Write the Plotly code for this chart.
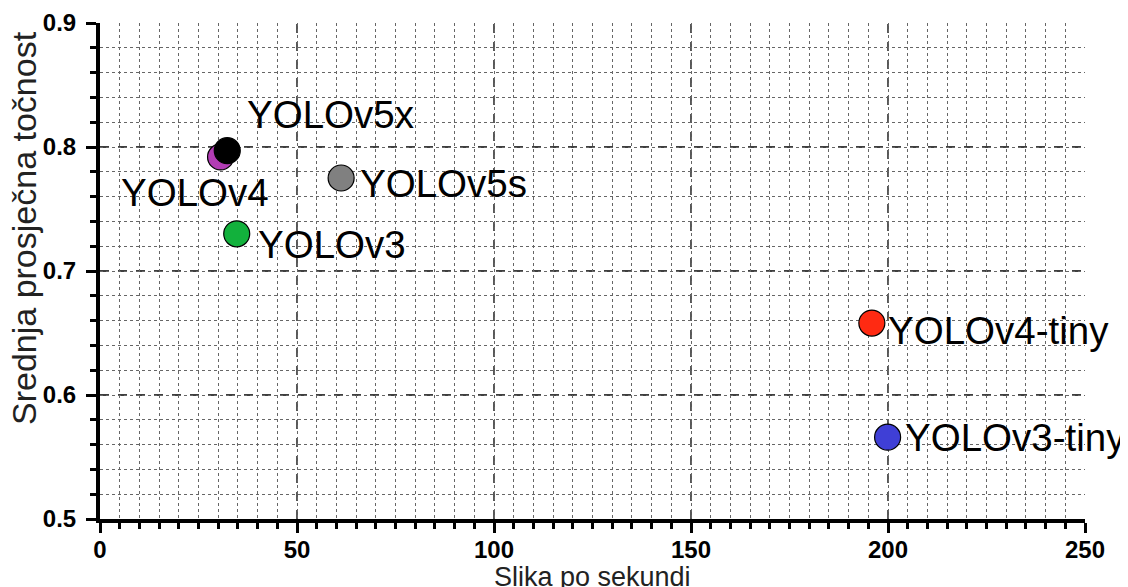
import plotly.graph_objects as go

# Data
models = ["YOLOv4", "YOLOv5x", "YOLOv5s", "YOLOv3", "YOLOv4-tiny", "YOLOv3-tiny"]
fps = [30.6, 32.3, 61.2, 34.7, 195.9, 199.9]
map_vals = [0.792, 0.797, 0.775, 0.730, 0.658, 0.566]
colors = ["#b23cb4", "#000000", "#808080", "#12b13c", "#ff2a12", "#3f3fd6"]

# label offsets (pixels) relative to each point
label_dx = [-102, 18, 17, 19, 14, 15]
label_dy = [-36, 36, -5, -11, -7, 0]

x_ticks = [0, 50, 100, 150, 200, 250]
y_ticks = [0.5, 0.6, 0.7, 0.8, 0.9]

FONT = "Liberation Sans, Arial, Helvetica, sans-serif"

fig = go.Figure()
fig.add_trace(go.Scatter(
    x=fps, y=map_vals, mode="markers",
    marker=dict(size=26, color=colors, line=dict(color="#000000", width=1.2)),
    hoverinfo="text", text=models, showlegend=False, cliponaxis=False,
))

for m, x, y, dx, dy in zip(models, fps, map_vals, label_dx, label_dy):
    fig.add_annotation(x=x, y=y, xref="x", yref="y", text=m, showarrow=False,
                       xanchor="left", yanchor="middle", xshift=dx, yshift=dy,
                       font=dict(family=FONT, size=38.5, color="#000000"))

# axis titles
fig.add_annotation(x=-0.077, y=0.587, xref="paper", yref="paper",
                   text="Srednja prosječna točnost", textangle=-90, showarrow=False,
                   xanchor="center", yanchor="middle",
                   font=dict(family=FONT, size=34, color="#222222"))
fig.add_annotation(x=0.5, y=-0.117, xref="paper", yref="paper",
                   text="Slika po sekundi", showarrow=False,
                   xanchor="center", yanchor="middle",
                   font=dict(family=FONT, size=27, color="#222222"))

# major dashed grid lines (interior ticks only, as in the reference)
for xv in x_ticks[1:-1]:
    fig.add_shape(type="line", xref="x", yref="paper", x0=xv, x1=xv, y0=0, y1=1,
                  line=dict(color="#000000", width=1.3, dash="dash"), layer="below")
for yv in y_ticks[1:-1]:
    fig.add_shape(type="line", xref="paper", yref="y", x0=0, x1=1, y0=yv, y1=yv,
                  line=dict(color="#000000", width=1.3, dash="dash"), layer="below")

axis_common = dict(
    showline=True, linecolor="#000000", linewidth=4,
    ticks="outside", ticklen=10, tickwidth=3, tickcolor="#000000",
    showgrid=False, zeroline=False, mirror=False, automargin=False,
    tickfont=dict(family=FONT, size=24, color="#000000"),
)

fig.update_xaxes(
    range=[0, 250], tickvals=x_ticks, ticktext=[f"<b>{v}</b>" for v in x_ticks],
    ticklabelstandoff=-4,
    minor=dict(dtick=5, tick0=0, ticks="outside", ticklen=6, tickwidth=3, tickcolor="#000000",
               showgrid=True, gridcolor="#666666", gridwidth=1, griddash="dot"),
    **axis_common,
)
fig.update_yaxes(
    range=[0.5, 0.9], tickvals=y_ticks, ticktext=[f"<b>{v:.1f}</b>" for v in y_ticks],
    ticklabelstandoff=5,
    minor=dict(dtick=0.02, tick0=0.5, ticks="outside", ticklen=6, tickwidth=3, tickcolor="#000000",
               showgrid=True, gridcolor="#666666", gridwidth=1, griddash="dot"),
    **axis_common,
)

fig.update_layout(
    width=1120, height=585,
    margin=dict(l=92, r=43, t=15, b=74),
    plot_bgcolor="#ffffff", paper_bgcolor="#ffffff",
    font=dict(family=FONT),
)

fig.write_html("out.html")
